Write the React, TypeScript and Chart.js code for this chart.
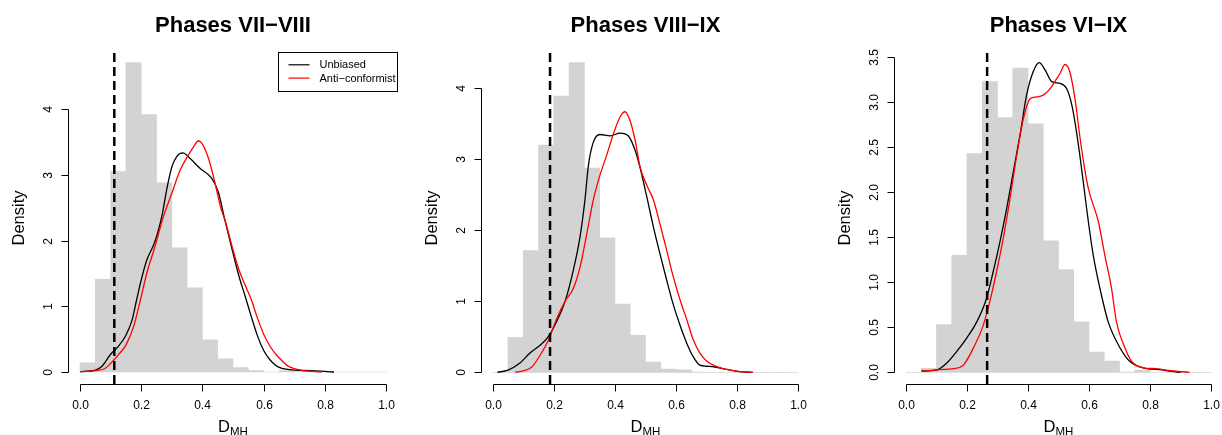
import { useEffect, useRef } from "react";
import { Chart, registerables } from "chart.js";

Chart.register(...registerables);

// ---------------- data ----------------
const BIN_WIDTH = 0.05;
const BIN_LEFT = [0, 0.05, 0.1, 0.15, 0.2, 0.25, 0.3, 0.35, 0.4, 0.45, 0.5, 0.55, 0.6, 0.65, 0.7, 0.75, 0.8, 0.85, 0.9, 0.95];

const X_TICKS = [0, 0.2, 0.4, 0.6, 0.8, 1.0];
const X_TICK_LABELS = ["0.0", "0.2", "0.4", "0.6", "0.8", "1.0"];

const TITLES = ["Phases VII\u2212VIII", "Phases VIII\u2212IX", "Phases VI\u2212IX"];
const OBSERVED = [0.112, 0.1876, 0.266];
const LEGEND_LABELS = ["Unbiased", "Anti\u2212conformist"];

// Panel 1: Phases VII-VIII
const HIST_1 = [0.14, 1.41, 3.05, 4.71, 3.92, 2.88, 1.89, 1.28, 0.49, 0.2, 0.066, 0.02, 0, 0.02, 0.008, 0, 0, 0, 0, 0];
const UNB_1_X = [0, 0.05, 0.07, 0.1, 0.125, 0.15, 0.17, 0.185, 0.2, 0.218, 0.24, 0.25, 0.267, 0.283, 0.3, 0.316, 0.336, 0.36, 0.392, 0.43, 0.452, 0.474, 0.5, 0.52, 0.54, 0.56, 0.58, 0.6, 0.62, 0.64, 0.66, 0.7, 0.75, 0.8, 0.83];
const UNB_1_Y = [0.005, 0.03, 0.08, 0.27, 0.39, 0.56, 0.79, 1.1, 1.4, 1.7, 1.93, 2.06, 2.36, 2.77, 3.12, 3.28, 3.335, 3.25, 3.1, 2.95, 2.74, 2.3, 1.81, 1.45, 1.15, 0.84, 0.55, 0.33, 0.19, 0.1, 0.055, 0.03, 0.02, 0.01, 0];
const ANTI_1_X = [0, 0.05, 0.08, 0.1, 0.125, 0.15, 0.175, 0.196, 0.218, 0.245, 0.272, 0.3, 0.327, 0.35, 0.37, 0.387, 0.4, 0.42, 0.44, 0.46, 0.474, 0.5, 0.52, 0.54, 0.56, 0.58, 0.6, 0.62, 0.64, 0.66, 0.68, 0.7, 0.73, 0.79];
const ANTI_1_Y = [0.005, 0.02, 0.05, 0.13, 0.26, 0.41, 0.69, 1.07, 1.5, 1.91, 2.36, 2.72, 3.07, 3.27, 3.42, 3.52, 3.47, 3.25, 2.9, 2.5, 2.31, 1.86, 1.55, 1.32, 1.1, 0.82, 0.58, 0.4, 0.27, 0.17, 0.09, 0.05, 0.02, 0];

// Panel 2: Phases VIII-IX
const HIST_2 = [0, 0.49, 1.71, 3.19, 3.88, 4.35, 2.87, 1.89, 0.96, 0.52, 0.145, 0.045, 0.035, 0.005, 0, 0, 0, 0, 0, 0];
const UNB_2_X = [0.015, 0.05, 0.089, 0.122, 0.155, 0.182, 0.21, 0.237, 0.264, 0.286, 0.302, 0.313, 0.329, 0.351, 0.384, 0.417, 0.444, 0.466, 0.482, 0.504, 0.526, 0.547, 0.569, 0.591, 0.613, 0.635, 0.656, 0.678, 0.7, 0.727, 0.766, 0.809, 0.85];
const UNB_2_Y = [0, 0.03, 0.13, 0.27, 0.38, 0.5, 0.72, 1.0, 1.44, 1.91, 2.43, 2.9, 3.23, 3.34, 3.32, 3.36, 3.32, 3.12, 2.88, 2.47, 2.04, 1.67, 1.3, 0.95, 0.66, 0.41, 0.22, 0.1, 0.085, 0.075, 0.04, 0.01, 0];
const ANTI_2_X = [0.073, 0.1, 0.127, 0.155, 0.182, 0.21, 0.237, 0.264, 0.286, 0.308, 0.329, 0.351, 0.373, 0.395, 0.417, 0.433, 0.449, 0.466, 0.482, 0.504, 0.526, 0.547, 0.569, 0.591, 0.613, 0.635, 0.656, 0.678, 0.7, 0.727, 0.766, 0.809, 0.852];
const ANTI_2_Y = [0, 0.02, 0.07, 0.24, 0.45, 0.76, 1.0, 1.18, 1.48, 1.95, 2.42, 2.77, 3.05, 3.35, 3.59, 3.66, 3.54, 3.26, 2.89, 2.63, 2.42, 2.09, 1.72, 1.34, 1.02, 0.74, 0.46, 0.27, 0.16, 0.09, 0.04, 0.01, 0];

// Panel 3: Phases VI-IX
const HIST_3 = [0, 0.044, 0.53, 1.3, 2.43, 3.23, 2.83, 3.38, 2.76, 1.46, 1.14, 0.56, 0.226, 0.126, 0.003, 0.025, 0, 0, 0, 0];
const UNB_3_X = [0.051, 0.1, 0.133, 0.166, 0.199, 0.232, 0.264, 0.286, 0.308, 0.33, 0.352, 0.374, 0.396, 0.417, 0.437, 0.456, 0.478, 0.505, 0.527, 0.543, 0.554, 0.57, 0.584, 0.598, 0.614, 0.636, 0.663, 0.702, 0.734, 0.789, 0.83, 0.87, 0.9];
const UNB_3_Y = [0.015, 0.025, 0.1, 0.23, 0.38, 0.56, 0.82, 1.12, 1.45, 1.82, 2.23, 2.64, 3.09, 3.34, 3.44, 3.36, 3.23, 3.21, 3.15, 2.98, 2.78, 2.41, 2.04, 1.67, 1.3, 0.93, 0.56, 0.27, 0.12, 0.04, 0.03, 0.01, 0];
const ANTI_3_X = [0.051, 0.111, 0.155, 0.188, 0.221, 0.254, 0.275, 0.297, 0.319, 0.341, 0.363, 0.385, 0.407, 0.428, 0.45, 0.472, 0.49, 0.505, 0.521, 0.537, 0.554, 0.57, 0.584, 0.598, 0.631, 0.652, 0.674, 0.69, 0.718, 0.74, 0.778, 0.82, 0.86, 0.93];
const ANTI_3_Y = [0.01, 0.03, 0.04, 0.08, 0.27, 0.53, 0.79, 1.12, 1.49, 1.93, 2.41, 2.82, 3.04, 3.06, 3.08, 3.15, 3.24, 3.32, 3.42, 3.34, 3.04, 2.62, 2.3, 2.04, 1.67, 1.3, 0.93, 0.56, 0.27, 0.12, 0.05, 0.04, 0.02, 0];

const Y_TICKS_12 = [0, 1, 2, 3, 4];
const Y_TICK_LABELS_12 = ["0", "1", "2", "3", "4"];
const Y_TICKS_3 = [0, 0.5, 1, 1.5, 2, 2.5, 3, 3.5];
const Y_TICK_LABELS_3 = ["0.0", "0.5", "1.0", "1.5", "2.0", "2.5", "3.0", "3.5"];

// ---------------- layout ----------------
const FONT = '"Liberation Sans", Arial, Helvetica, sans-serif';
const GRAY = "#D3D3D3";

type PanelDef = {
  left: number;
  padLeft: number;
  padRight: number;
  yMin: number;
  yMax: number;
  hist: number[];
  ux: number[];
  uy: number[];
  ax: number[];
  ay: number[];
  yTicks: number[];
  yLabels: string[];
  title: string;
  observed: number;
  legend: boolean;
};

const PANELS: PanelDef[] = [
  { left: 0, padLeft: 67.8, padRight: 11.8, yMin: -0.1826, yMax: 4.871, hist: HIST_1, ux: UNB_1_X, uy: UNB_1_Y, ax: ANTI_1_X, ay: ANTI_1_Y, yTicks: Y_TICKS_12, yLabels: Y_TICK_LABELS_12, title: TITLES[0], observed: OBSERVED[0], legend: true },
  { left: 410, padLeft: 70.5, padRight: 9.5, yMin: -0.164, yMax: 4.499, hist: HIST_2, ux: UNB_2_X, uy: UNB_2_Y, ax: ANTI_2_X, ay: ANTI_2_Y, yTicks: Y_TICKS_12, yLabels: Y_TICK_LABELS_12, title: TITLES[1], observed: OBSERVED[1], legend: false },
  { left: 820, padLeft: 73.8, padRight: 6.8, yMin: -0.13, yMax: 3.559, hist: HIST_3, ux: UNB_3_X, uy: UNB_3_Y, ax: ANTI_3_X, ay: ANTI_3_Y, yTicks: Y_TICKS_3, yLabels: Y_TICK_LABELS_3, title: TITLES[2], observed: OBSERVED[2], legend: false },
];

const CANVAS_W = 410;
const CANVAS_H = 435;

const rStylePlugin = {
  id: "rStyle",
  afterDraw(chart: any, _args: any, opts: any) {
    const { ctx, chartArea: a } = chart;
    const xs = chart.scales.x;
    const ys = chart.scales.y;
    ctx.save();
    ctx.strokeStyle = "#000";
    ctx.fillStyle = "#000";
    ctx.lineWidth = 1;

    // x axis (R style, offset below plot)
    const xb = Math.round(a.bottom) + 0.5;
    const xt = xs.ticks.map((t: any) => Math.round(xs.getPixelForValue(t.value)) + 0.5);
    ctx.beginPath();
    ctx.moveTo(xt[0], xb);
    ctx.lineTo(xt[xt.length - 1], xb);
    xt.forEach((px: number) => {
      ctx.moveTo(px, xb);
      ctx.lineTo(px, xb + 7);
    });
    ctx.stroke();
    ctx.font = `12px ${FONT}`;
    ctx.textAlign = "center";
    ctx.textBaseline = "alphabetic";
    xt.forEach((px: number, i: number) => ctx.fillText(opts.xLabels[i], px, a.bottom + 24.5));

    // y axis
    const yl = Math.round(a.left) + 0.5;
    const yt = ys.ticks.map((t: any) => Math.round(ys.getPixelForValue(t.value)) + 0.5);
    ctx.beginPath();
    ctx.moveTo(yl, yt[0]);
    ctx.lineTo(yl, yt[yt.length - 1]);
    yt.forEach((py: number) => {
      ctx.moveTo(yl, py);
      ctx.lineTo(yl - 7, py);
    });
    ctx.stroke();
    yt.forEach((py: number, i: number) => {
      ctx.save();
      ctx.translate(a.left - 15.5, py);
      ctx.rotate(-Math.PI / 2);
      ctx.textAlign = "center";
      ctx.textBaseline = "alphabetic";
      ctx.fillText(opts.yLabels[i], 0, 0);
      ctx.restore();
    });

    // y title
    ctx.save();
    ctx.translate(a.left - 48, (a.top + a.bottom) / 2);
    ctx.rotate(-Math.PI / 2);
    ctx.font = `16.5px ${FONT}`;
    ctx.textAlign = "center";
    ctx.textBaseline = "middle";
    ctx.fillText("Density", 0, 0);
    ctx.restore();

    // x title D_MH
    const cx = (xs.getPixelForValue(0) + xs.getPixelForValue(1)) / 2;
    ctx.font = `16.5px ${FONT}`;
    const wD = ctx.measureText("D").width;
    ctx.font = `11.5px ${FONT}`;
    const wS = ctx.measureText("MH").width;
    const sx = cx - (wD + wS) / 2;
    ctx.textAlign = "left";
    ctx.font = `16.5px ${FONT}`;
    ctx.fillText("D", sx, a.bottom + 48);
    ctx.font = `11.5px ${FONT}`;
    ctx.fillText("MH", sx + wD, a.bottom + 50.5);

    // main title
    ctx.font = `bold 22px ${FONT}`;
    ctx.textAlign = "center";
    ctx.fillText(opts.title, (a.left + a.right) / 2, a.top - 20.3);

    // legend
    if (opts.legend) {
      const bw = 119;
      const bh = 39;
      const bx = Math.round(a.right - 1 - bw) + 0.5;
      const by = Math.round(a.top) + 0.5;
      ctx.fillStyle = "#fff";
      ctx.fillRect(bx, by, bw, bh);
      ctx.strokeStyle = "#000";
      ctx.lineWidth = 1;
      ctx.strokeRect(bx, by, bw, bh);
      const rows = [by + 12.3, by + 25.6];
      const cols = ["#000", "#FF0000"];
      ctx.font = `11px ${FONT}`;
      ctx.textAlign = "left";
      ctx.textBaseline = "middle";
      rows.forEach((ry, i) => {
        ctx.strokeStyle = cols[i];
        ctx.lineWidth = 1.2;
        ctx.beginPath();
        ctx.moveTo(bx + 10, ry);
        ctx.lineTo(bx + 31, ry);
        ctx.stroke();
        ctx.fillStyle = "#000";
        ctx.fillText(opts.legendLabels[i], bx + 41, ry + 0.5);
      });
    }
    ctx.restore();
  },
};

function Panel({ def }: { def: PanelDef }) {
  const ref = useRef<HTMLCanvasElement | null>(null);
  useEffect(() => {
    if (!ref.current) return;
    const toPts = (xs: number[], ys: number[]) => xs.map((x, i) => ({ x, y: ys[i] }));
    const chart = new Chart(ref.current, {
      type: "bar",
      data: {
        datasets: [
          {
            type: "line",
            data: [
              { x: def.observed, y: def.yMin },
              { x: def.observed, y: def.yMax },
            ],
            borderColor: "#000",
            borderWidth: 2.5,
            borderDash: [9, 5],
            pointRadius: 0,
            fill: false,
            tension: 0,
            order: 0,
          } as any,
          {
            type: "line",
            label: LEGEND_LABELS[1],
            data: toPts(def.ax, def.ay),
            borderColor: "#FF0000",
            borderWidth: 1.3,
            pointRadius: 0,
            fill: false,
            cubicInterpolationMode: "monotone",
            order: 1,
          } as any,
          {
            type: "line",
            label: LEGEND_LABELS[0],
            data: toPts(def.ux, def.uy),
            borderColor: "#000",
            borderWidth: 1.3,
            pointRadius: 0,
            fill: false,
            cubicInterpolationMode: "monotone",
            order: 2,
          } as any,
          {
            type: "bar",
            data: BIN_LEFT.map((b, i) => ({ x: b + BIN_WIDTH / 2, y: def.hist[i] })),
            backgroundColor: GRAY,
            borderWidth: 0,
            barPercentage: 1,
            categoryPercentage: 1,
            order: 3,
          } as any,
        ],
      },
      options: {
        animation: false,
        responsive: false,
        devicePixelRatio: 1,
        events: [],
        layout: { padding: { left: def.padLeft, right: def.padRight, top: 52, bottom: CANVAS_H - 384 } },
        scales: {
          x: {
            type: "linear",
            min: -0.04,
            max: 1.04,
            offset: false,
            display: false,
            afterBuildTicks: (s: any) => {
              s.ticks = X_TICKS.map((v) => ({ value: v }));
            },
          },
          y: {
            type: "linear",
            min: def.yMin,
            max: def.yMax,
            display: false,
            afterBuildTicks: (s: any) => {
              s.ticks = def.yTicks.map((v) => ({ value: v }));
            },
          },
        },
        plugins: {
          legend: { display: false },
          tooltip: { enabled: false },
          title: { display: false },
          rStyle: {
            title: def.title,
            legend: def.legend,
            legendLabels: LEGEND_LABELS,
            xLabels: X_TICK_LABELS,
            yLabels: def.yLabels,
          },
        } as any,
      },
      plugins: [rStylePlugin as any],
    });
    return () => chart.destroy();
  }, [def]);
  return (
    <canvas
      ref={ref}
      width={CANVAS_W}
      height={CANVAS_H}
      style={{ position: "absolute", left: def.left, top: 0, width: CANVAS_W, height: CANVAS_H, display: "block" }}
    />
  );
}

export default function App() {
  return (
    <div
      style={{
        position: "fixed",
        left: 0,
        top: 0,
        width: 1222,
        height: 435,
        overflow: "hidden",
        background: "#fff",
      }}
    >
      {PANELS.map((p, i) => (
        <Panel key={i} def={p} />
      ))}
    </div>
  );
}
